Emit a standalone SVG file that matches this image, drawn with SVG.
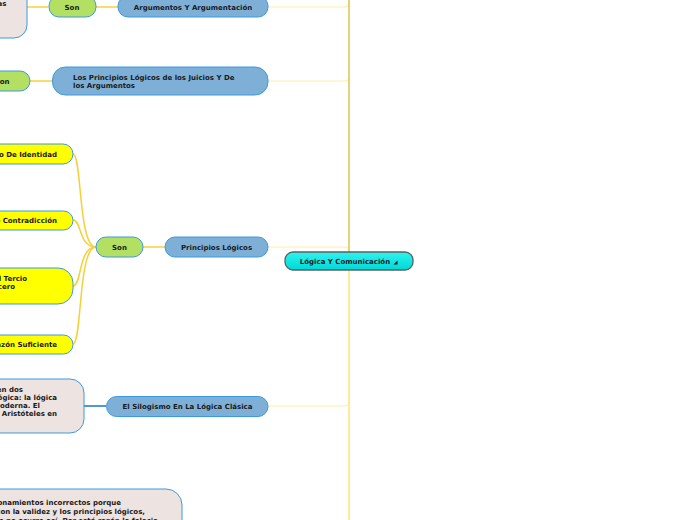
<svg xmlns="http://www.w3.org/2000/svg" width="696" height="520" viewBox="0 0 696 520">
<defs>
<linearGradient id="cyan" x1="0" y1="0" x2="0" y2="1">
<stop offset="0" stop-color="#2ef3f0"/>
<stop offset="1" stop-color="#00d8d6"/>
</linearGradient>
</defs>
<style>
text{font-family:"DejaVu Sans",Verdana,sans-serif;font-size:7px;font-weight:bold;fill:#1a1a1a}
.c{text-anchor:middle}
.e{text-anchor:end}
.blue{fill:#7eb0d7;stroke:#3b9ae0;stroke-width:1}
.green{fill:#b3e063;stroke:#3b9ae0;stroke-width:1}
.yellow{fill:#ffff00;stroke:#3b9ae0;stroke-width:1}
.beige{fill:#ede3e1;stroke:#3b9ae0;stroke-width:1}
.y{fill:none;stroke:#f8cf3a;stroke-width:1.5}
.br{fill:none;stroke:#fcedab;stroke-width:1}
</style>
<g id="connectors">
<path class="br" d="M268,7 H345 Q349,7 349,3"/>
<path class="br" d="M268,81 H345 Q349,81 349,77"/>
<path class="br" d="M268,247 H345 Q349,247 349,251"/>
<path class="br" d="M268,406 H345 Q349,406 349,402"/>
<path d="M349,0 V252" fill="none" stroke="#e2c65a" stroke-width="1.6"/>
<path d="M349,270 V520" fill="none" stroke="#ffe57f" stroke-width="1.6"/>
<path class="y" d="M27,7 H48"/>
<path class="y" d="M96,7 H118"/>
<path class="y" d="M30,81 H52"/>
<path class="y" d="M143,247 H165"/>
<path class="y" d="M73,154 C82,154 78,247 96,247"/>
<path class="y" d="M73,220 C82,220 78,247 96,247"/>
<path class="y" d="M73,286 C82,286 78,247 96,247"/>
<path class="y" d="M73,344 C82,344 78,247 96,247"/>
<path d="M84,406 H106" fill="none" stroke="#1a6fd6" stroke-width="1.5"/>
</g>
<g id="central">
<rect x="285" y="252" width="128" height="18" rx="8" fill="url(#cyan)" stroke="#586262" stroke-width="1.3"/>
<text class="c" x="345" y="264">Lógica Y Comunicación</text>
<polygon points="397.5,260.5 397.5,264.5 393.5,264.5" fill="#1a1a1a"/>
</g>
<g id="n-argumentos">
<rect class="blue" x="118" y="-4" width="150" height="21" rx="10"/>
<text class="c" x="193" y="10">Argumentos Y Argumentación</text>
</g>
<g id="n-son1">
<rect class="green" x="49" y="-4" width="47" height="21" rx="10"/>
<text class="c" x="72" y="10">Son</text>
</g>
<g id="n-beige-top">
<rect class="beige" x="-20" y="-20" width="47" height="58" rx="13"/>
<text class="e" x="6.5" y="5.5">as</text>
</g>
<g id="n-principios-juicios">
<rect class="blue" x="52.5" y="67" width="215.5" height="28" rx="13"/>
<text x="73" y="79.5">Los Principios Lógicos de los Juicios Y De</text>
<text x="73" y="88">los Argumentos</text>
</g>
<g id="n-son2">
<rect class="green" x="-20" y="71" width="50" height="20" rx="10"/>
<text class="e" x="9.5" y="83.5">Son</text>
</g>
<g id="n-principios-logicos">
<rect class="blue" x="165" y="237" width="103" height="20" rx="10"/>
<text class="c" x="216.5" y="249.5">Principios Lógicos</text>
</g>
<g id="n-son3">
<rect class="green" x="96" y="237" width="47" height="20" rx="10"/>
<text class="c" x="119.5" y="249.5">Son</text>
</g>
<g id="n-identidad">
<rect class="yellow" x="-30" y="144" width="103" height="20" rx="10"/>
<text class="e" x="57" y="156.5">io De Identidad</text>
</g>
<g id="n-contradiccion">
<rect class="yellow" x="-30" y="211" width="103" height="19" rx="9.5"/>
<text class="e" x="57" y="222.5">No Contradicción</text>
</g>
<g id="n-tercio">
<rect class="yellow" x="-30" y="268" width="103" height="36" rx="15"/>
<text class="e" x="27" y="280.5">Del Tercio</text>
<text class="e" x="15" y="288.5">Tercero</text>
</g>
<g id="n-razon">
<rect class="yellow" x="-30" y="335" width="103" height="19" rx="9.5"/>
<text class="e" x="57" y="347">Razón Suficiente</text>
</g>
<g id="n-silogismo">
<rect class="blue" x="106.5" y="396.5" width="161.5" height="20" rx="10"/>
<text class="c" x="187.5" y="409">El Silogismo En La Lógica Clásica</text>
</g>
<g id="n-beige-mid">
<rect class="beige" x="-30" y="379" width="114" height="54" rx="14"/>
<text class="e" x="23" y="392">en dos</text>
<text class="e" x="57" y="400">lógica: la lógica</text>
<text class="e" x="40" y="408">moderna. El</text>
<text class="e" x="57" y="416">por Aristóteles en</text>
</g>
<g id="n-beige-bottom">
<rect class="beige" x="-30" y="489" width="212" height="60" rx="16"/>
<text class="e" x="121" y="505">razonamientos incorrectos porque</text>
<text class="e" x="145" y="514">con la validez y los principios lógicos,</text>
<text class="e" x="158" y="522.5">es no ocurre así. Por está razón la falacia</text>
</g>
</svg>
